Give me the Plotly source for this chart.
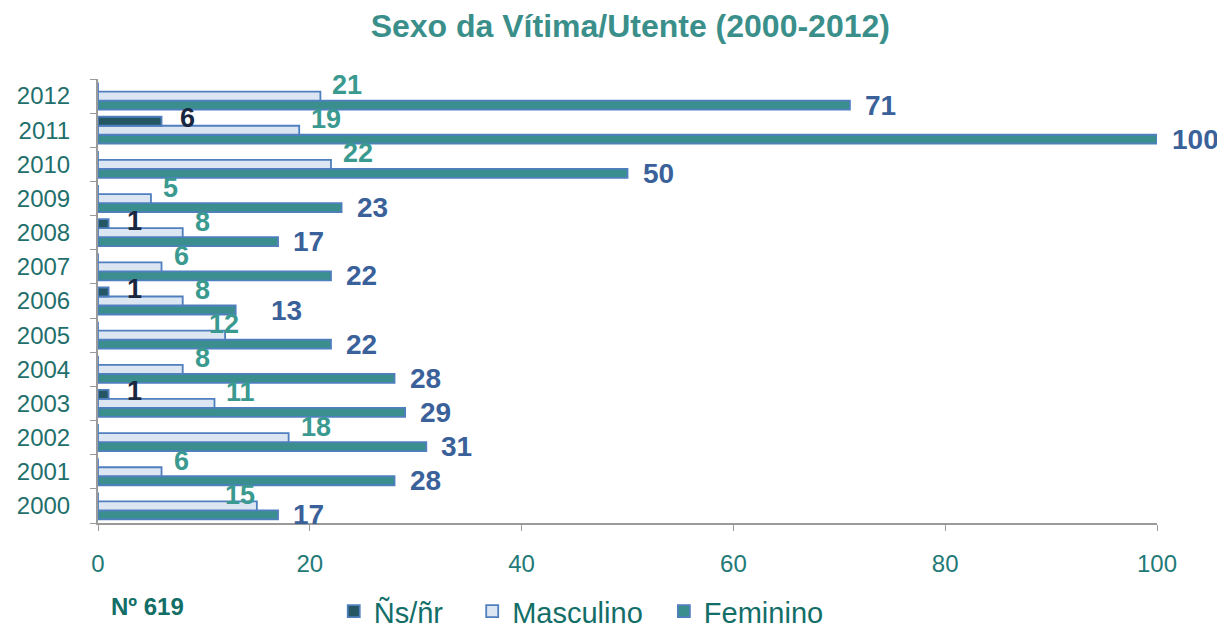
import plotly.graph_objects as go

years = ["2000", "2001", "2002", "2003", "2004", "2005", "2006",
         "2007", "2008", "2009", "2010", "2011", "2012"]
feminino = [17, 28, 31, 29, 28, 22, 13, 22, 17, 23, 50, 100, 71]
masculino = [15, 6, 18, 11, 8, 12, 8, 6, 8, 5, 22, 19, 21]
nsnr = [0, 0, 0, 1, 0, 0, 1, 0, 1, 0, 0, 6, 0]

x_ticks = [0, 20, 40, 60, 80, 100]
title_text = "Sexo da Vítima/Utente (2000-2012)"
note_text = "Nº 619"

FONT = "Liberation Sans, Arial, sans-serif"
BORDER = "#4F7FBF"
NBSP = "\u00a0"

# manual label nudges (px) as placed in the original chart
label_nudge = {("m", "2000"): -44, ("m", "2005"): -28, ("f", "2006"): 20}

fig = go.Figure()
fig.add_trace(go.Bar(y=years, x=feminino, orientation="h", name="Feminino",
                     marker=dict(color="#3A8F8E", line=dict(color=BORDER, width=1.8))))
fig.add_trace(go.Bar(y=years, x=masculino, orientation="h", name="Masculino" + NBSP * 2,
                     marker=dict(color="#DCE6F2", line=dict(color=BORDER, width=1.8))))
fig.add_trace(go.Bar(y=years, x=nsnr, orientation="h", name="Ñs/ñr" + NBSP * 3,
                     marker=dict(color="#245763", line=dict(color=BORDER, width=1.8))))

annotations = []
for i, v in enumerate(feminino):
    annotations.append(dict(x=v, y=i, xref="x", yref="y", text=str(v), showarrow=False,
                            xanchor="left", yanchor="middle",
                            xshift=13 + label_nudge.get(("f", years[i]), 0), yshift=-9,
                            font=dict(family=FONT, size=28, color="#3A6199", weight="bold")))
for i, v in enumerate(masculino):
    annotations.append(dict(x=v, y=i, xref="x", yref="y", text=str(v), showarrow=False,
                            xanchor="left", yanchor="middle",
                            xshift=10 + label_nudge.get(("m", years[i]), 0), yshift=11,
                            font=dict(family=FONT, size=27, color="#3A9A8F", weight="bold")))
for i, v in enumerate(nsnr):
    if v:
        annotations.append(dict(x=v, y=i, xref="x", yref="y", text=str(v), showarrow=False,
                                xanchor="left", yanchor="middle", xshift=16, yshift=12,
                                font=dict(family=FONT, size=27, color="#1A2740", weight="bold")))
annotations.append(dict(x=0.0104, y=-0.187, xref="paper", yref="paper", text=note_text,
                        showarrow=False, xanchor="left", yanchor="middle",
                        font=dict(family=FONT, size=24, color="#136E68", weight="bold")))

fig.update_layout(
    width=1225, height=626,
    paper_bgcolor="white", plot_bgcolor="white",
    margin=dict(l=90, r=76, t=71, b=111, autoexpand=False),
    barmode="group", bargap=0.21, bargroupgap=0,
    title=dict(text=title_text, x=0.508, xanchor="center", y=0.971, yanchor="middle",
               font=dict(family=FONT, size=32, color="#3A8F8A", weight="bold")),
    showlegend=True,
    legend=dict(orientation="h", x=0.2226, xanchor="left", y=-0.199, yanchor="middle",
                traceorder="reversed",
                font=dict(family=FONT, size=29, color="#136E68")),
    annotations=annotations,
    xaxis=dict(range=[0, 100], tickvals=x_ticks, showgrid=False, zeroline=False,
               showline=True, linecolor="#9A9A9A", linewidth=1.5,
               ticks="outside", ticklen=6, tickcolor="#9A9A9A",
               ticklabelstandoff=12,
               tickfont=dict(family=FONT, size=24, color="#1F7A77")),
    yaxis=dict(type="category", range=[-0.5, 12.5], autorange=False,
               showgrid=False, zeroline=False,
               showline=True, linecolor="#9A9A9A", linewidth=2,
               ticks="outside", ticklen=6, tickcolor="#9A9A9A", tickson="boundaries",
               ticklabelstandoff=21,
               tickfont=dict(family=FONT, size=24, color="#1F6F6C")),
)

fig.write_html("out.html")
